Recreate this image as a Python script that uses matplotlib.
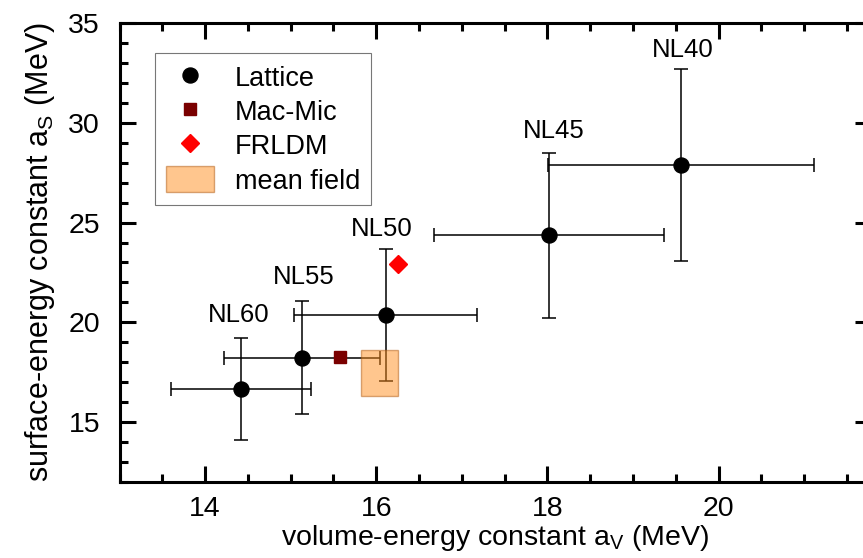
import matplotlib
matplotlib.use("Agg")
import matplotlib.pyplot as plt
from matplotlib.patches import Rectangle, Patch
from matplotlib.lines import Line2D
from matplotlib.ticker import MultipleLocator

plt.rcParams['font.family'] = ['Liberation Sans', 'DejaVu Sans']
plt.rcParams['mathtext.default'] = 'regular'

# Lattice results (volume / surface energy constants, MeV)
lattice_names = ["NL60", "NL55", "NL50", "NL45", "NL40"]
lattice_av = [14.42, 15.13, 16.11, 18.02, 19.56]
lattice_as = [16.65, 18.22, 20.36, 24.36, 27.89]
lattice_av_err = [0.82, 0.91, 1.07, 1.34, 1.55]
lattice_as_err = [2.55, 2.83, 3.33, 4.15, 4.83]

# label anchor (centre of text) for each lattice point
label_av = [14.39, 15.15, 16.06, 18.07, 19.58]
label_as = [20.36, 22.27, 24.67, 29.61, 33.66]

# macroscopic-microscopic and FRLDM values
macmic_av, macmic_as = [15.58], [18.26]
frldm_av, frldm_as = [16.25], [22.91]

# mean-field range
meanfield_av = [15.82, 16.25]
meanfield_as = [16.31, 18.61]

lattice_color = 'black'
macmic_color = '#7a0000'
frldm_color = '#ff0000'
mf_face, mf_edge = '#ff8f1f', '#b05a10'

W, H = 863, 558
fig = plt.figure(figsize=(W / 100, H / 100), dpi=100)
left, right, top, bottom = 119.5, 871, 23.3, 481.7
ax = fig.add_axes([left / W, 1 - bottom / H, (right - left) / W, (bottom - top) / H])

ax.errorbar(lattice_av, lattice_as, xerr=lattice_av_err, yerr=lattice_as_err,
            fmt='o', color=lattice_color, ms=10.8, elinewidth=1.1, capsize=4.7,
            capthick=1.1, zorder=3)
ax.plot(macmic_av, macmic_as, 's', color=macmic_color, ms=9.2, zorder=4,
        linestyle='none')
ax.plot(frldm_av, frldm_as, 'D', color=frldm_color, ms=9.5, zorder=4,
        linestyle='none')

mf = Rectangle((meanfield_av[0], meanfield_as[0]),
               meanfield_av[1] - meanfield_av[0],
               meanfield_as[1] - meanfield_as[0],
               facecolor=mf_face, alpha=0.5, edgecolor=mf_edge,
               linewidth=1.0, zorder=5)
ax.add_patch(mf)

for name, x, y in zip(lattice_names, label_av, label_as):
    ax.text(x, y, name, ha='center', va='center', fontsize=18.5)

ax.set_xlim(13, 21.78)
ax.set_ylim(12, 35)
ax.xaxis.set_major_locator(MultipleLocator(2))
ax.xaxis.set_minor_locator(MultipleLocator(0.5))
ax.yaxis.set_major_locator(MultipleLocator(5))
ax.yaxis.set_minor_locator(MultipleLocator(1))

for s in ax.spines.values():
    s.set_linewidth(2.2)
ax.tick_params(which='both', direction='in', top=True, right=True, width=2.2)
ax.tick_params(which='major', length=11.5, labelsize=20.5)
ax.tick_params(axis='y', which='major', pad=14)
ax.tick_params(axis='x', which='major', pad=10)
ax.tick_params(which='minor', length=5.8)

ax.set_xlabel('volume-energy constant a$_V$ (MeV)', fontsize=20.5, labelpad=1)
ax.set_ylabel('surface-energy constant a$_S$ (MeV)', fontsize=22, labelpad=8)

handles = [
    Line2D([], [], marker='o', color=lattice_color, ms=10.8, linestyle='none'),
    Line2D([], [], marker='s', color=macmic_color, ms=8.5, linestyle='none'),
    Line2D([], [], marker='D', color=frldm_color, ms=9.0, linestyle='none'),
    Patch(facecolor=mf_face, alpha=0.5, edgecolor=mf_edge, linewidth=1.0),
]
labels = ['Lattice', 'Mac-Mic', 'FRLDM', 'mean field']
leg = ax.legend(handles, labels, loc='upper left',
                bbox_to_anchor=(0.047, 0.935), fontsize=19.5,
                frameon=True, fancybox=False, edgecolor='#555555',
                handlelength=1.8, handleheight=1.1, handletextpad=0.75,
                borderpad=0.4, labelspacing=0.22, borderaxespad=0)
leg.get_frame().set_linewidth(0.8)

fig.savefig('out.png', dpi=100)
